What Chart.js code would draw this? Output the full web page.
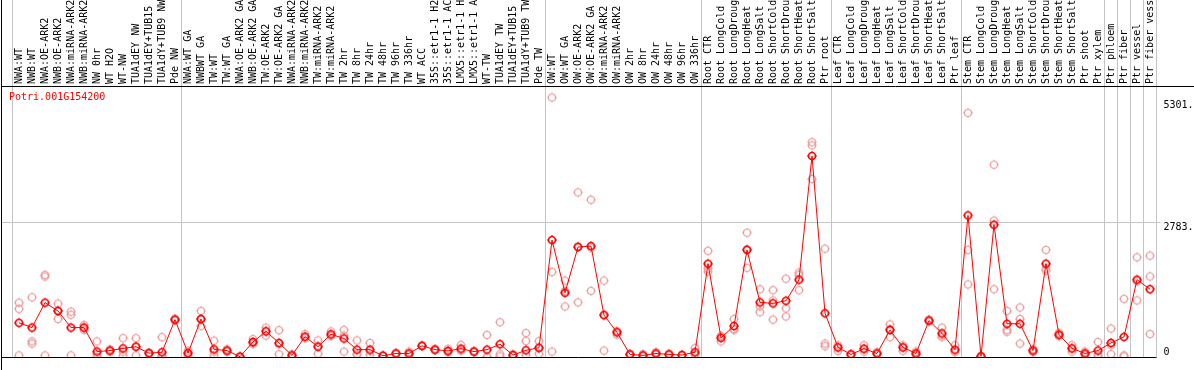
<!DOCTYPE html>
<html>
<head>
<meta charset="utf-8">
<script src="https://cdn.jsdelivr.net/npm/chart.js@4/dist/chart.umd.min.js"></script>
<style>
  body { margin: 0; background: #fff; }
  #wrap { position: relative; width: 1194px; height: 370px; }
  #geneName { position: absolute; left: 9px; top: 91px; color: #ff0000; font: 10px 'DejaVu Sans Mono', monospace; line-height: 12px; }
</style>
</head>
<body>
<div id="wrap">
  <canvas id="chart" width="1194" height="370"></canvas>
  <div id="geneName">Potri.001G154200</div>
</div>
<script>
// sample labels, one per column
const labels = [
  'NWA:WT', 'NWB:WT', 'NWA:OE-ARK2', 'NWB:OE-ARK2', 'NWA:miRNA-ARK2', 'NWB:miRNA-ARK2', 'NW 0hr', 'WT H2O', 'WT-NW',
  'TUA1dEY NW', 'TUA1dEY+TUB15 NW', 'TUA1dY+TUB9 NW', 'Pde NW',
  'NWA:WT GA', 'NWBWT GA', 'TW:WT', 'TW:WT GA', 'NWA:OE-ARK2 GA', 'NWB:OE-ARK2 GA', 'TW:OE-ARK2', 'TW:OE-ARK2 GA',
  'NWA:miRNA-ARK2 GA', 'NWB:miRNA-ARK2 GA', 'TW:miRNA-ARK2', 'TW:miRNA-ARK2 GA', 'TW 2hr', 'TW 8hr', 'TW 24hr',
  'TW 48hr', 'TW 96hr', 'TW 336hr', 'WT ACC', '35S::etr1-1 H2O', '35S::etr1-1 ACC', 'LMX5::etr1-1 H2O',
  'LMX5::etr1-1 ACC', 'WT-TW', 'TUA1dEY TW', 'TUA1dEY+TUB15 TW', 'TUA1dY+TUB9 TW', 'Pde TW',
  'OW:WT', 'OW:WT GA', 'OW:OE-ARK2', 'OW:OE-ARK2 GA', 'OW:miRNA-ARK2', 'OW:miRNA-ARK2 GA', 'OW 2hr', 'OW 8hr',
  'OW 24hr', 'OW 48hr', 'OW 96hr', 'OW 336hr',
  'Root CTR', 'Root LongCold', 'Root LongDrought', 'Root LongHeat', 'Root LongSalt', 'Root ShortCold',
  'Root ShortDrought', 'Root ShortHeat', 'Root ShortSalt', 'Ptr root',
  'Leaf CTR', 'Leaf LongCold', 'Leaf LongDrought', 'Leaf LongHeat', 'Leaf LongSalt', 'Leaf ShortCold',
  'Leaf ShortDrought', 'Leaf ShortHeat', 'Leaf ShortSalt', 'Ptr leaf',
  'Stem CTR', 'Stem LongCold', 'Stem LongDrought', 'Stem LongHeat', 'Stem LongSalt', 'Stem ShortCold',
  'Stem ShortDrought', 'Stem ShortHeat', 'Stem ShortSalt', 'Ptr shoot', 'Ptr xylem',
  'Ptr phloem', 'Ptr fiber', 'Ptr vessel', 'Ptr fiber vessel'
];

// mean expression per sample
const means = [
  707, 608, 1123, 951, 608, 608, 113, 133, 178, 212, 79, 99, 773,
  79, 786, 158, 133, 6, 311, 529, 291, 33, 422, 212, 469, 383, 152, 152, 26, 73, 73, 231, 152, 126, 172, 112, 152, 264, 40, 139, 192,
  2417, 1327, 2272, 2292, 865, 509, 53, 33, 73, 53, 40, 99,
  1928, 396, 640, 2213, 1129, 1109, 1162, 1598, 4154, 905,
  198, 53, 172, 73, 558, 198, 73, 753, 489, 152,
  2926, 13, 2734, 687, 687, 133, 1928, 462, 178, 73, 133,
  291, 416, 1598, 1400
];

// replicates
const rep1 = [
  1123, 1234, 1698, 1103, 937, 660, 323, 160, 390, 390, 90, 410, 790,
  130, 951, 336, 160, 13, 370, 608, 555, 59, 475, 343, 528, 561, 343, 290, 33, 80, 112, 240, 170, 170, 250, 120, 455, 719, 59, 495, 330,
  5363, 1579, 3401, 3249, 1579, 528, 60, 59, 100, 66, 46, 185,
  2193, 429, 786, 2569, 1400, 1380, 1618, 1743, 4438, 2239,
  244, 60, 244, 100, 673, 244, 112, 773, 607, 244,
  5045, 13, 3975, 951, 1024, 160, 2213, 500, 244, 112, 311,
  588, 1202, 2060, 2094
];
const rep2 = [
  997, 323, 1664, 786, 872, 560, 59, 120, 110, 215, 79, 20, 773,
  33, 640, 33, 110, 0, 290, 442, 59, 33, 409, 66, 442, 442, 46, 46, 20, 66, 46, 225, 140, 100, 130, 100, 0, 59, 33, 330, 66,
  1757, 1044, 1129, 1367, 133, 462, 46, 20, 66, 40, 33, 66,
  1829, 436, 561, 1842, 1044, 1169, 1004, 1697, 4372, 277,
  125, 46, 112, 60, 410, 125, 40, 733, 410, 112,
  2213, 13, 2819, 561, 786, 100, 1829, 430, 112, 46, 46,
  244, 33, 1169, 1664
];
const rep3 = [
  33, 277, 33, 964, 33, 608, 0, 120, 33, 33, 66, 0, 756,
  80, 770, 110, 130, 6, 270, 540, 260, 13, 390, 230, 440, 112, 66, 120, 26, 73, 66, 230, 150, 110, 140, 115, 0, 13, 26, 46, 180,
  112, 1360, 2286, 2260, 880, 530, 53, 33, 53, 53, 40, 46,
  1763, 323, 580, 2228, 925, 773, 838, 1380, 3679, 224,
  200, 53, 160, 73, 580, 200, 73, 753, 450, 110,
  1500, 13, 1400, 521, 277, 133, 1783, 462, 178, 73, 13,
  59, 13, 1565, 475
];

// y axis ticks shown on the right
const yTicks = [0, 2783, 5301];
const yTickLabels = ['0', '2783.', '5301.'];
const yMax = 5600;

// column boundaries where a separator line is drawn
const groupEdges = [0, 13, 41, 53, 63, 73, 84, 85, 86, 87, 88];

const GRID = '#c4c4c4';
const NONE = 'rgba(0,0,0,0)';
const FONT = { family: "'DejaVu Sans Mono', monospace", size: 10 };

// circle marker with four small nubs
function makeMarker(color, lw) {
  const c = document.createElement('canvas');
  c.width = 12;
  c.height = 12;
  const g = c.getContext('2d');
  g.strokeStyle = color;
  g.lineWidth = lw;
  g.beginPath();
  g.arc(6, 6, 3.5, 0, Math.PI * 2);
  g.stroke();
  g.fillStyle = color;
  g.fillRect(5.5, 1, 1, 1.2);
  g.fillRect(5.5, 9.8, 1, 1.2);
  g.fillRect(1, 5.5, 1.2, 1);
  g.fillRect(9.8, 5.5, 1.2, 1);
  return c;
}

const repMarker = makeMarker('#ee9c9c', 1.2);
const meanMarker = makeMarker('#ff0000', 1.7);

function yGridColor(ctx) {
  return ctx.tick && ctx.tick.value === 2783 ? GRID : NONE;
}

function setTicks(scale) {
  scale.ticks = yTicks.map(v => ({ value: v }));
}

// black frame lines round the plot
const framePlugin = {
  id: 'frame',
  beforeDatasetsDraw(chart) {
    const { ctx, chartArea, width, height } = chart;
    ctx.save();
    ctx.strokeStyle = '#000';
    ctx.lineWidth = 1;
    ctx.beginPath();
    ctx.moveTo(1.5, 0);
    ctx.lineTo(1.5, height);
    ctx.moveTo(1, Math.round(chartArea.top) + 0.5);
    ctx.lineTo(width, Math.round(chartArea.top) + 0.5);
    ctx.moveTo(1, Math.round(chartArea.bottom) + 0.5);
    ctx.lineTo(chartArea.right, Math.round(chartArea.bottom) + 0.5);
    ctx.stroke();
    ctx.restore();
  }
};

function repSet(data) {
  return {
    data: data,
    showLine: false,
    pointStyle: repMarker,
    pointRadius: 5,
    borderColor: '#ee9c9c',
    backgroundColor: NONE
  };
}

new Chart(document.getElementById('chart'), {
  type: 'line',
  data: {
    labels: labels,
    datasets: [
      {
        data: means,
        borderColor: '#ff0000',
        borderWidth: 1,
        tension: 0,
        pointStyle: meanMarker,
        pointRadius: 5,
        backgroundColor: NONE
      },
      repSet(rep1),
      repSet(rep2),
      repSet(rep3)
    ]
  },
  options: {
    responsive: false,
    animation: false,
    events: [],
    layout: { padding: { left: 0, right: 0, top: 0, bottom: 1 }, autoPadding: false },
    plugins: { legend: { display: false }, tooltip: { enabled: false } },
    scales: {
      x: {
        type: 'category',
        position: 'top',
        offset: true,
        grid: {
          offset: true,
          tickLength: 86,
          color: ctx => (ctx.index === undefined || groupEdges.includes(ctx.index)) ? GRID : NONE
        },
        border: { display: false },
        ticks: {
          autoSkip: false,
          minRotation: 90,
          maxRotation: 90,
          padding: -84,
          labelOffset: 12,
          color: '#000',
          font: FONT
        },
        afterFit: s => { s.height = 86; }
      },
      y: {
        position: 'right',
        min: 0,
        max: yMax,
        afterBuildTicks: setTicks,
        grid: { color: yGridColor, tickLength: 4 },
        border: { display: false },
        ticks: {
          padding: 3,
          color: '#000',
          font: Object.assign({ lineHeight: 1 }, FONT),
          callback: (v, i) => i === 0 ? [yTickLabels[i], ''] : ['', yTickLabels[i]]
        },
        afterFit: s => { s.width = 37.5; }
      },
      yl: {
        position: 'left',
        min: 0,
        max: yMax,
        afterBuildTicks: setTicks,
        grid: { color: yGridColor, tickLength: 10.5, drawOnChartArea: false },
        border: { display: false },
        ticks: { display: false },
        afterFit: s => { s.width = 12.5; }
      }
    }
  },
  plugins: [framePlugin]
});
</script>
</body>
</html>
